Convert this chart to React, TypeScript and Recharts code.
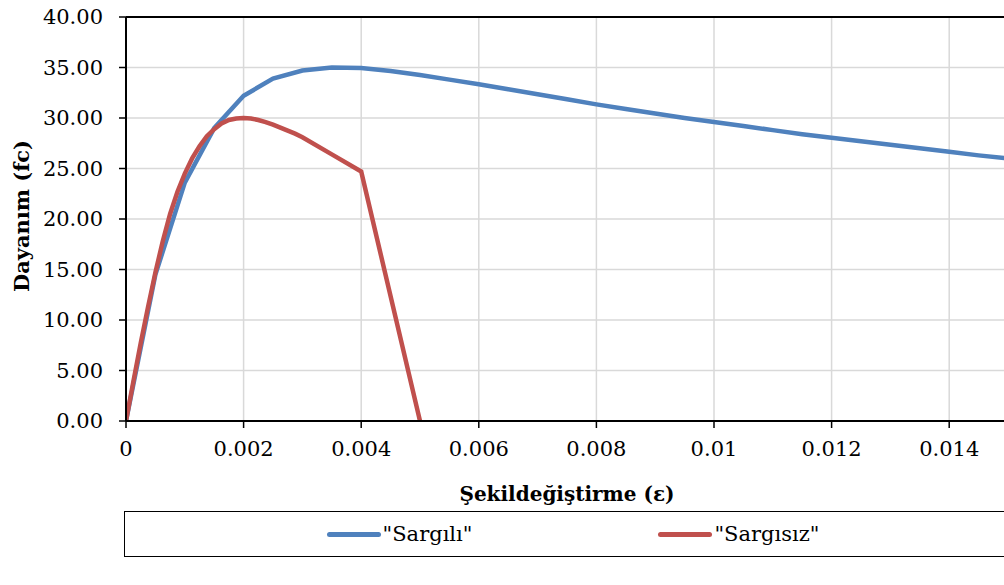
import { LineChart, Line, XAxis, YAxis, CartesianGrid, Legend, ReferenceLine } from 'recharts';

const sargiliStrain = [
  0, 0.0005, 0.001, 0.0015, 0.002, 0.0025, 0.003, 0.0035, 0.004, 0.0045, 0.005, 0.0055,
  0.006, 0.0065, 0.007, 0.0075, 0.008, 0.0085, 0.009, 0.0095, 0.01, 0.0105, 0.011,
  0.0115, 0.012, 0.0125, 0.013, 0.0135, 0.014, 0.0145, 0.015,
];
const sargiliStress = [
  0, 14.5, 23.6, 29.0, 32.2, 33.9, 34.7, 35.0, 34.95, 34.65, 34.25, 33.8,
  33.35, 32.85, 32.35, 31.85, 31.35, 30.9, 30.45, 30.0, 29.6, 29.2, 28.8,
  28.4, 28.05, 27.7, 27.35, 27.0, 26.65, 26.3, 26.0,
];

const sargisizStrain = [
  0, 0.000125, 0.00025, 0.000375, 0.0005, 0.000625, 0.00075, 0.000875, 0.001,
  0.001125, 0.00125, 0.001375, 0.0015, 0.001625, 0.00175, 0.001875, 0.002,
  0.002125, 0.00225, 0.002375, 0.0025, 0.002625, 0.00275, 0.002875, 0.003,
  0.0035, 0.004, 0.005,
];
const sargisizStress = [
  0, 3.9, 7.7, 11.3, 14.7, 17.8, 20.5, 22.7, 24.5,
  26.0, 27.2, 28.2, 28.9, 29.45, 29.8, 29.95, 30.0,
  29.95, 29.8, 29.6, 29.35, 29.05, 28.75, 28.45, 28.1,
  26.4, 24.7, 0,
];

const xTicks = [0, 0.002, 0.004, 0.006, 0.008, 0.01, 0.012, 0.014];
const yTicks = [0, 5, 10, 15, 20, 25, 30, 35, 40];

const sargili = sargiliStrain.map((e, i) => ({ e, fc: sargiliStress[i] }));
const sargisiz = sargisizStrain.map((e, i) => ({ e, fc: sargisizStress[i] }));

// only serif face available in the sandbox
const font = 'DejaVu Serif, serif';

function LegendBox({ payload }: any) {
  return (
    <div
      style={{
        boxSizing: 'border-box',
        width: 898,
        height: 46,
        border: '1.5px solid #000',
        display: 'flex',
        alignItems: 'center',
        justifyContent: 'center',
        gap: 186,
        fontFamily: font,
        fontSize: 21,
        color: '#000',
      }}
    >
      {(payload || []).map((p: any) => (
        <div key={p.value} style={{ display: 'flex', alignItems: 'center' }}>
          <span
            style={{
              display: 'inline-block',
              width: 54,
              height: 5,
              borderRadius: 3,
              background: p.color,
              marginRight: 2,
            }}
          />
          <span>{p.value}</span>
        </div>
      ))}
    </div>
  );
}

export default function App() {
  return (
    <div
      style={{
        position: 'absolute',
        left: 0,
        top: 0,
        width: 1004,
        height: 585,
        overflow: 'hidden',
        background: '#fff',
      }}
    >
      <LineChart width={1010} height={585} margin={{ top: 17, right: 2, left: 0, bottom: 0 }}>
        <CartesianGrid stroke="#d9d9d9" strokeWidth={1.5} />
        <XAxis
          type="number"
          dataKey="e"
          domain={[0, 0.015]}
          ticks={xTicks}
          tickFormatter={(v: number) => String(v)}
          height={164}
          axisLine={{ stroke: '#000', strokeWidth: 2 }}
          tickLine={{ stroke: '#000', strokeWidth: 1.5 }}
          tickSize={7}
          tickMargin={13}
          tick={{ fill: '#000', fontSize: 21, fontFamily: font }}
          allowDataOverflow
          label={{
            value: 'Şekildeğiştirme (ε)',
            position: 'insideBottom',
            offset: 84,
            fill: '#000',
            fontSize: 20,
            fontWeight: 'bold',
            fontFamily: font,
          }}
        />
        <YAxis
          type="number"
          domain={[0, 40]}
          ticks={yTicks}
          tickFormatter={(v: number) => v.toFixed(2)}
          width={126}
          axisLine={{ stroke: '#000', strokeWidth: 2 }}
          tickLine={{ stroke: '#000', strokeWidth: 1.5 }}
          tickSize={7}
          tickMargin={16}
          tick={{ fill: '#000', fontSize: 21, fontFamily: font }}
          label={{
            content: () => (
              <text
                x={21}
                y={216}
                transform="rotate(-90 21 216)"
                textAnchor="middle"
                dominantBaseline="central"
                fill="#000"
                fontSize={21}
                fontWeight="bold"
                style={{ fontFamily: font }}
              >
                Dayanım (fc)
              </text>
            ),
          }}
        />
        <ReferenceLine y={40} stroke="#000" strokeWidth={2} />
        <Line
          data={sargili}
          dataKey="fc"
          name={'"Sargılı"'}
          stroke="#4F81BD"
          strokeWidth={4.5}
          dot={false}
          type="linear"
          isAnimationActive={false}
        />
        <Line
          data={sargisiz}
          dataKey="fc"
          name={'"Sargısız"'}
          stroke="#C0504D"
          strokeWidth={4.5}
          dot={false}
          type="linear"
          isAnimationActive={false}
        />
        <Legend
          layout="horizontal"
          verticalAlign="middle"
          align="center"
          wrapperStyle={{ position: 'absolute', left: 124, top: 511, width: 898 }}
          content={<LegendBox />}
        />
      </LineChart>
    </div>
  );
}
